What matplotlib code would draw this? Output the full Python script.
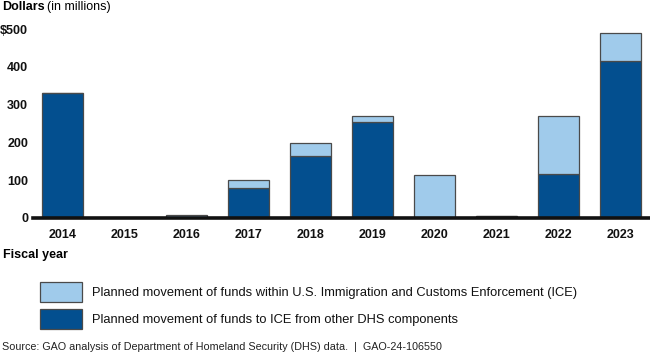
import matplotlib
matplotlib.use("Agg")
import matplotlib.pyplot as plt
from matplotlib.patches import Rectangle

plt.rcParams['font.family'] = ['Liberation Sans', 'DejaVu Sans']

years = ["2014", "2015", "2016", "2017", "2018", "2019", "2020", "2021", "2022", "2023"]
from_other = [331, 0, 0, 79, 164, 254, 0, 6, 116, 415]
within_ice = [0, 0, 8, 21, 34, 16, 114, 0, 155, 74]
yticks = [0, 100, 200, 300, 400, 500]
ytick_labels = ["0", "100", "200", "300", "400", "$500"]

DARK = "#034f8f"
LIGHT = "#a0cbeb"
EDGE = "#4a4a4a"

W, H = 650.0, 355.0
fig = plt.figure(figsize=(6.5, 3.55), dpi=100)
ax = fig.add_axes([33/W, 1-218/H, 1-33/W, (218-29)/H])

x = list(range(len(years)))
w = 0.66
ax.bar(x, from_other, width=w, color=DARK, edgecolor=EDGE, linewidth=0.9, zorder=2)
ax.bar(x, within_ice, width=w, bottom=from_other, color=LIGHT, edgecolor=EDGE, linewidth=0.9, zorder=2)

ax.set_ylim(0, 500)
ax.set_xlim(-0.47, 9.47)
ax.set_yticks(yticks)
ax.set_yticklabels(ytick_labels, fontweight="bold", fontsize=9)
ax.set_xticks(x)
ax.set_xticklabels(years, fontweight="bold", fontsize=9)
ax.tick_params(axis="both", length=0, colors="#111111")
ax.tick_params(axis="x", pad=8)
ax.tick_params(axis="y", pad=3.6)
for s in ["top", "right", "left"]:
    ax.spines[s].set_visible(False)
ax.spines["bottom"].set_linewidth(2.6)
ax.spines["bottom"].set_color("#111111")
ax.spines["bottom"].set_zorder(3)

fig.text(2/W, 1-7/H, "Dollars", fontweight="bold", fontsize=9, va="center", ha="left")
fig.text(47/W, 1-7/H, "(in millions)", fontsize=9, va="center", ha="left")
fig.text(3/W, 1-255/H, "Fiscal year", fontweight="bold", fontsize=9, va="center", ha="left")

# legend
def swatch(y0, color, label):
    fig.patches.append(Rectangle((40/W, 1-(y0+20)/H), 42/W, 20/H, transform=fig.transFigure,
                                 facecolor=color, edgecolor=EDGE, linewidth=0.9))
    fig.text(92/W, 1-(y0+11)/H, label, fontsize=9.3, va="center", ha="left", color="#111111")

swatch(282, LIGHT, "Planned movement of funds within U.S. Immigration and Customs Enforcement (ICE)")
swatch(309, DARK, "Planned movement of funds to ICE from other DHS components")

fig.text(2/W, 1-347/H, "Source: GAO analysis of Department of Homeland Security (DHS) data.  |  GAO-24-106550",
         fontsize=7.75, va="center", ha="left", color="#222222")

fig.savefig("out.png", dpi=100)
